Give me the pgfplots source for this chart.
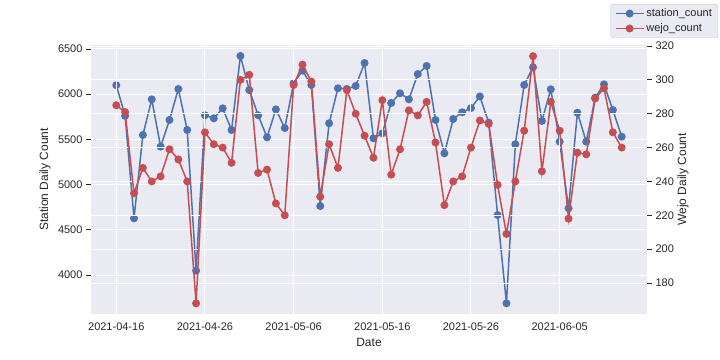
\documentclass[border=0pt]{standalone}
\usepackage{fontspec}
\setmainfont{Liberation Sans}
\usepackage{pgfplots}
\pgfplotsset{compat=1.18}
\usepackage{pgfplotstable}

\definecolor{sbblue}{HTML}{4C72B0}
\definecolor{sbred}{HTML}{C44E52}
\definecolor{sbbg}{HTML}{EAEAF2}
\definecolor{sbtext}{HTML}{262626}

% day index (0 = 2021-04-16), daily count
\pgfplotstableread{
d station
0 6100
1 5760
2 4627
3 5549
4 5943
5 5420
6 5715
7 6058
8 5604
9 4048
10 5767
11 5733
12 5844
13 5604
14 6423
15 6046
16 5767
17 5523
18 5832
19 5626
20 6121
21 6260
22 6102
23 4763
24 5678
25 6065
26 6058
27 6091
28 6345
29 5512
30 5567
31 5903
32 6010
33 5943
34 6223
35 6312
36 5715
37 5346
38 5726
39 5800
40 5847
41 5975
42 5685
43 4664
44 3687
45 5446
46 6102
47 6297
48 5704
49 6054
50 5475
51 4738
52 5795
53 5475
54 5961
55 6109
56 5825
57 5530
}\stationtbl

\pgfplotstableread{
d wejo
0 285
1 281
2 233
3 248
4 240
5 243
6 259
7 253
8 240
9 168
10 269
11 262
12 260
13 251
14 300
15 303
16 245
17 247
18 227
19 220
20 297
21 309
22 299
23 231
24 262
25 248
26 294
27 280
28 267
29 254
30 288
31 244
32 259
33 282
34 279
35 287
36 263
37 226
38 240
39 243
40 260
41 276
42 274
43 238
44 209
45 240
46 270
47 314
48 246
49 287
50 270
51 218
52 257
53 256
54 289
55 295
56 269
57 260
}\wejotbl

\pgfplotsset{
  sbstyle/.style={
    scale only axis, width=556bp, height=269bp,
    at={(0,0)}, anchor=south west,
    xmin=-2.85, xmax=59.85,
    xtick={0,10,20,30,40,50},
    xticklabels={2021-04-16,2021-04-26,2021-05-06,2021-05-16,2021-05-26,2021-06-05},
    grid=major, major grid style={white, line width=1bp},
    axis line style={draw=none},
    xtick style={draw=none},
    ytick style={draw=sbtext, line width=0.8bp},
    tick align=outside, major tick length=5bp,
    tick label style={font=\fontsize{11bp}{13bp}\selectfont, text=sbtext},
    label style={font=\fontsize{12bp}{14bp}\selectfont, text=sbtext},
    /pgf/number format/assume math mode=true,
    scaled y ticks=false,
    yticklabel style={/pgf/number format/1000 sep={}},
    clip=false,
  },
}

\begin{document}
\begin{tikzpicture}
\path[use as bounding box] (-91bp,-46bp) rectangle (629bp,314bp);
\begin{axis}[sbstyle,
  axis background/.style={fill=sbbg},
  ymin=3569, ymax=6544,
  ytick={4000,4500,...,6500},
  ytick pos=left,
  xlabel={Date},
  xlabel style={at={(axis description cs:0.5,-0.104)}, anchor=center},
  ylabel={Station Daily Count},
  ylabel style={at={(axis description cs:-0.0827,0.5)}, anchor=center, rotate=0},
  legend style={at={(1.1277,1.152)}, anchor=north east,
    fill=sbbg, draw=black!20, rounded corners=2bp,
    font=\fontsize{11bp}{13bp}\selectfont, text=sbtext,
    row sep=1.5bp, inner xsep=4bp, inner ysep=2.5bp},
  legend cell align=left,
  legend image code/.code={\draw[mark repeat=2, mark phase=2] plot coordinates {(0bp,0bp) (14bp,0bp) (28bp,0bp)};},
]
\addplot[color=sbblue, line width=1.5bp, mark=*, mark size=3.2bp] table[x=d, y=station] {\stationtbl};
\addlegendentry{station\_count}
\addlegendimage{color=sbred, line width=1.5bp, mark=*, mark size=3.2bp}
\addlegendentry{wejo\_count}
\end{axis}
\begin{axis}[sbstyle,
  ymin=161.7, ymax=320.6,
  ytick={180,200,...,320},
  ytick pos=right,
  xticklabels={},
  ylabel={Wejo Daily Count},
  ylabel style={at={(axis description cs:1.0647,0.5)}, anchor=center, rotate=0},
]
\addplot[color=sbred, line width=1.5bp, mark=*, mark size=3.2bp] table[x=d, y=wejo] {\wejotbl};
\end{axis}
\end{tikzpicture}
\end{document}
